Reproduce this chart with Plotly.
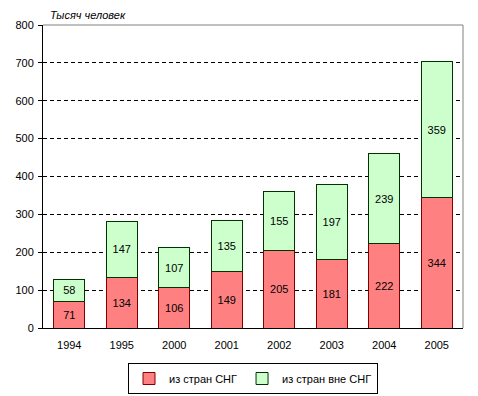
import plotly.graph_objects as go

years = ["1994", "1995", "2000", "2001", "2002", "2003", "2004", "2005"]
cis = [71, 134, 106, 149, 205, 181, 222, 344]
non_cis = [58, 147, 107, 135, 155, 197, 239, 359]
y_ticks = [0, 100, 200, 300, 400, 500, 600, 700, 800]

FONT = "Liberation Sans, Arial, sans-serif"
W, H = 462, 388  # page body has an 8px default margin

fig = go.Figure()
fig.add_trace(go.Bar(
    x=years, y=cis, name="из стран СНГ",
    marker=dict(color="#FF8080", line=dict(color="#800000", width=1)),
    text=[str(v) for v in cis], textposition="inside", insidetextanchor="middle",
    textangle=0, textfont=dict(color="black", size=11, family=FONT),
))
fig.add_trace(go.Bar(
    x=years, y=non_cis, name="из стран вне СНГ",
    marker=dict(color="#CCFFCC", line=dict(color="#003300", width=1)),
    text=[str(v) for v in non_cis], textposition="inside", insidetextanchor="middle",
    textangle=0, textfont=dict(color="black", size=11, family=FONT),
))

fig.update_layout(
    barmode="stack",
    bargap=0.41,
    width=W, height=H,
    margin=dict(l=35, r=7, t=17, b=68, autoexpand=False),
    paper_bgcolor="white", plot_bgcolor="white",
    font=dict(family=FONT, size=11, color="black"),
    uniformtext=dict(minsize=11, mode="show"),
    legend=dict(
        orientation="h", x=0.5, xanchor="center",
        yref="container", y=1 - 355 / H, yanchor="top",
        bordercolor="black", borderwidth=1, bgcolor="white",
        font=dict(size=11, family=FONT), itemwidth=30, traceorder="normal",
        tracegroupgap=0,
    ),
    xaxis=dict(
        showline=True, linecolor="black", linewidth=1, ticks="",
        showgrid=False, tickfont=dict(size=11), ticklabelstandoff=7,
    ),
    yaxis=dict(
        range=[0, 800], tickvals=y_ticks, showline=True, linecolor="black", linewidth=1,
        ticks="outside", ticklen=4, tickcolor="black", ticklabelstandoff=2,
        showgrid=True, gridcolor="black", griddash="4px,3px", gridwidth=1,
        zeroline=False, tickfont=dict(size=11),
    ),
    shapes=[
        dict(type="line", xref="paper", yref="paper", x0=0, x1=1, y0=1, y1=1,
             line=dict(color="#808080", width=1)),
        dict(type="line", xref="paper", yref="paper", x0=1, x1=1, y0=0, y1=1,
             line=dict(color="#808080", width=1)),
    ],
    annotations=[
        dict(text="<i>Тысяч человек</i>", xref="paper", yref="paper", x=0, y=1,
             xanchor="left", yanchor="bottom", xshift=5, yshift=2, showarrow=False,
             font=dict(size=11, family=FONT)),
    ],
)

fig.write_html("out.html")
